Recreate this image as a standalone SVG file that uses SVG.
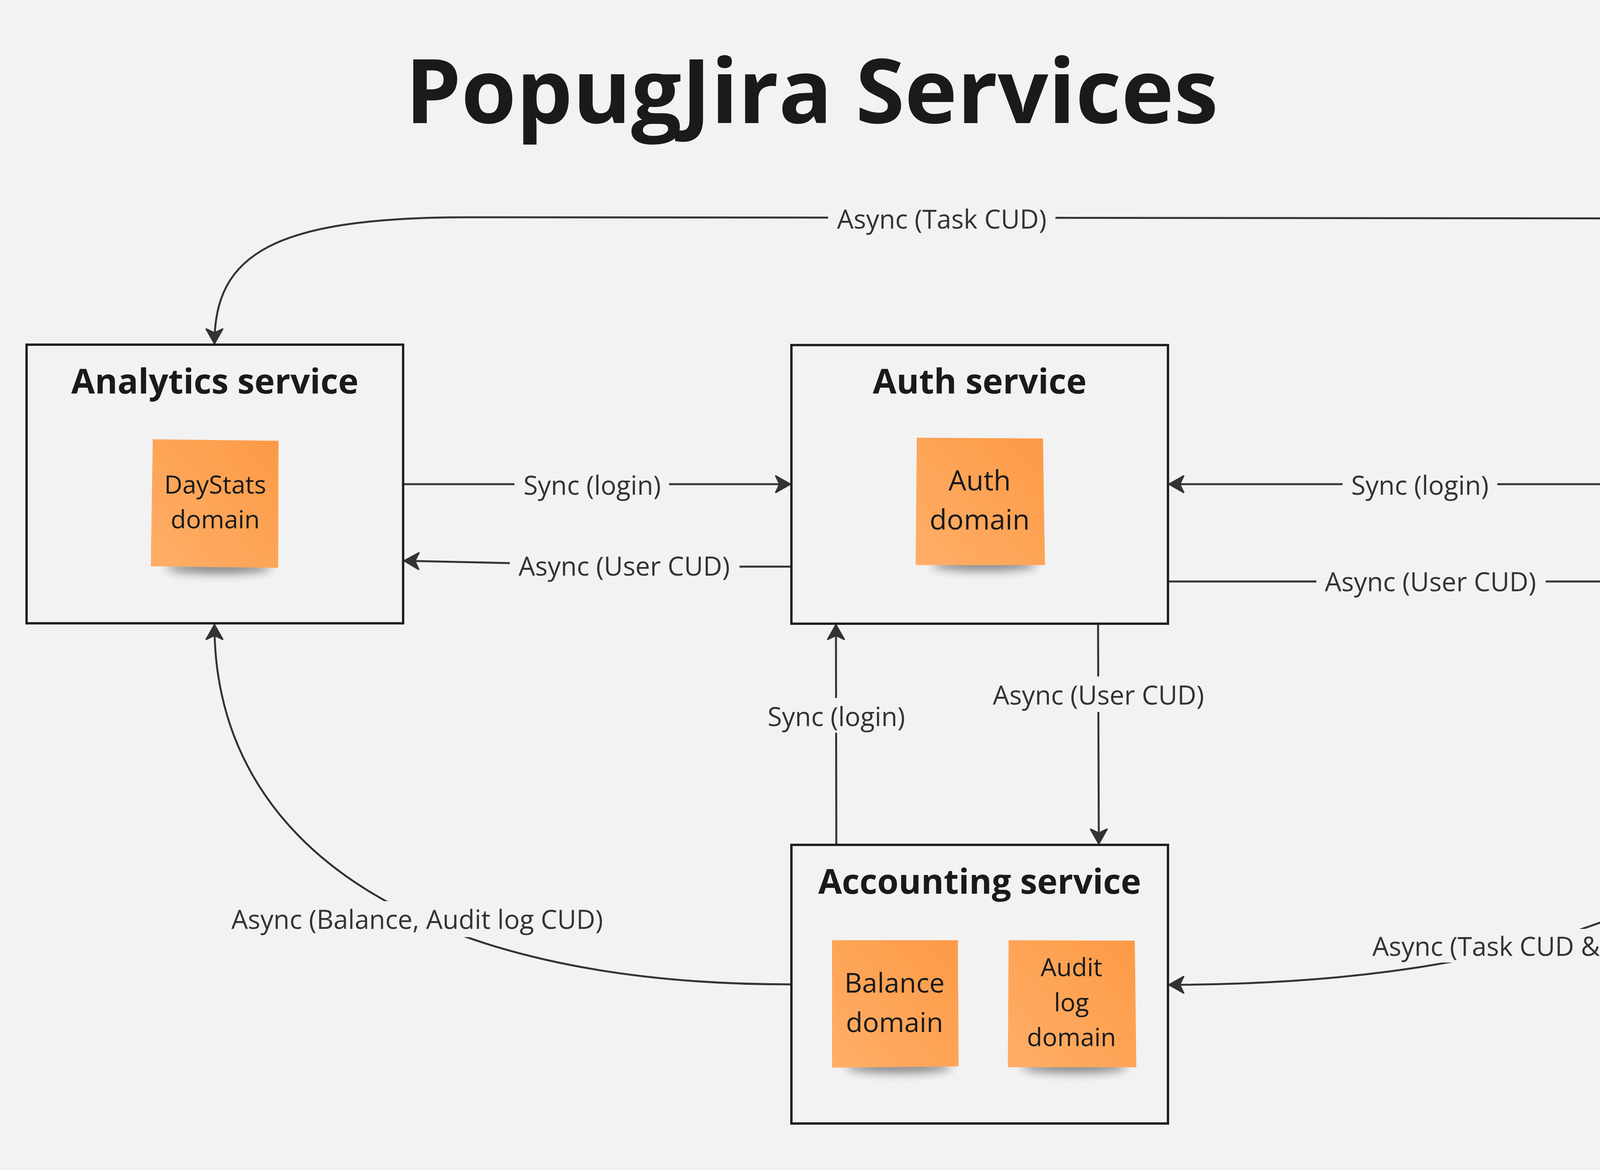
<svg xmlns="http://www.w3.org/2000/svg" width="5343" height="2994" viewBox="0 0 5343 2994">
<style>
.box{fill:none;stroke:#1f1f1f;stroke-width:6}
.title{font-family:"Open Sans","Noto Sans","Liberation Sans",sans-serif;font-weight:700;font-size:88px;fill:#1a1a1a;text-anchor:middle}
.note{font-family:"Open Sans","Noto Sans","Liberation Sans",sans-serif;font-size:70px;fill:#1a1a1a;text-anchor:middle}
.lbl{font-family:"Open Sans","Noto Sans","Liberation Sans",sans-serif;font-size:67px;fill:#333333;text-anchor:middle}
.edge{fill:none;stroke:#333333;stroke-width:5}
.bg{fill:#f2f2f2}
.sticky{fill:url(#stickyGrad)}
.shadow{fill:#000;opacity:0.45;filter:url(#blur)}
</style>
<defs>
<linearGradient id="stickyGrad" x1="1" y1="0" x2="0" y2="1">
<stop offset="0" stop-color="#fc9a45"/>
<stop offset="1" stop-color="#ffae68"/>
</linearGradient>
<filter id="blur" x="-50%" y="-200%" width="200%" height="500%">
<feGaussianBlur stdDeviation="12"/>
</filter>
<marker id="arrow" markerUnits="userSpaceOnUse" viewBox="-42 -26 46 52" refX="0" refY="0" markerWidth="46" markerHeight="52" orient="auto">
<path d="M0 0 L-37 -21 L-27 0 L-37 21 Z" fill="#333333" stroke="#333333" stroke-width="4" stroke-linejoin="round"/>
</marker>
</defs>
<rect x="0" y="0" width="5343" height="2994" fill="#f2f2f2"/>

<text x="2078" y="315" font-family="Open Sans, Noto Sans, Liberation Sans, sans-serif" font-weight="700" font-size="228" fill="#1a1a1a" text-anchor="middle">PopugJira Services</text>

<g id="connectors">
<path class="edge" d="M4735 880 C4735 650 4560 565 4200 559 L1200 556 C700 556 549 650 549 879" marker-end="url(#arrow)"/>
<path class="edge" d="M1035 1239 L2023 1239" marker-end="url(#arrow)"/>
<path class="edge" d="M2023 1450 L1880 1450 L1305 1441 L1035 1435" marker-end="url(#arrow)"/>
<path class="edge" d="M4250 1239 L2993 1239" marker-end="url(#arrow)"/>
<path class="edge" d="M2993 1488 L4250 1488" marker-end="url(#arrow)"/>
<path class="edge" d="M2141 2160 L2140 1599" marker-end="url(#arrow)"/>
<path class="edge" d="M2811 1599 L2813 2159" marker-end="url(#arrow)"/>
<path class="edge" d="M4735 1599 C4735 2300 3870 2520 2993 2520" marker-end="url(#arrow)"/>
<path class="edge" d="M2023 2519 C1080 2519 549 2170 549 1599" marker-end="url(#arrow)"/>

<rect class="bg" x="2120" y="515" width="582" height="90"/>
<text class="lbl" x="2411" y="585">Async (Task CUD)</text>
<rect class="bg" x="1317" y="1195" width="396" height="90"/>
<text class="lbl" x="1516" y="1266">Sync (login)</text>
<rect class="bg" x="1305" y="1400" width="588" height="95"/>
<text class="lbl" x="1598" y="1473">Async (User CUD)</text>
<rect class="bg" x="3437" y="1195" width="396" height="90"/>
<text class="lbl" x="3635" y="1266">Sync (login)</text>
<rect class="bg" x="3370" y="1440" width="587" height="95"/>
<text class="lbl" x="3662" y="1513">Async (User CUD)</text>
<rect class="bg" x="1950" y="1786" width="382" height="89"/>
<text class="lbl" x="2141" y="1858">Sync (login)</text>
<rect class="bg" x="2520" y="1731" width="585" height="91"/>
<text class="lbl" x="2812" y="1803">Async (User CUD)</text>
<rect class="bg" x="3490" y="2377" width="945" height="86"/>
<text class="lbl" x="3961" y="2446">Async (Task CUD &amp; Business)</text>
<rect class="bg" x="565" y="2306" width="1005" height="92"/>
<text class="lbl" x="1068" y="2377">Async (Balance, Audit log CUD)</text>
</g>

<g id="analytics">
<rect class="box" x="68" y="882" width="964" height="713"/>
<text class="title" x="550" y="1007">Analytics service</text>
<g id="daystats">
<ellipse class="shadow" cx="560" cy="1452" rx="135" ry="16"/>
<polygon class="sticky" points="391,1124 713,1128 712,1453 386,1449"/>
<text class="note" font-size="64" x="551" y="1263" style="font-size:64px">DayStats</text>
<text class="note" x="551" y="1352" style="font-size:64px">domain</text>
</g>
</g>

<g id="auth">
<rect class="box" x="2026" y="883" width="964" height="713"/>
<text class="title" x="2508" y="1007">Auth service</text>
<g id="authdomain">
<ellipse class="shadow" cx="2520" cy="1445" rx="135" ry="16"/>
<polygon class="sticky" points="2347,1120 2670,1122 2675,1446 2344,1446"/>
<text class="note" x="2508" y="1255" style="font-size:72px">Auth</text>
<text class="note" x="2508" y="1355" style="font-size:72px">domain</text>
</g>
</g>

<g id="task">
<rect class="box" x="4253" y="882" width="964" height="713"/>
<text class="title" x="4735" y="1006">Task service</text>
<g id="taskdomain">
<ellipse class="shadow" cx="4745" cy="1443" rx="135" ry="16"/>
<polygon class="sticky" points="4573,1119 4895,1122 4898,1444 4576,1444"/>
<text class="note" x="4735" y="1254" style="font-size:72px">Task</text>
<text class="note" x="4735" y="1354" style="font-size:72px">domain</text>
</g>
</g>

<g id="accounting">
<rect class="box" x="2026" y="2162" width="964" height="713"/>
<text class="title" x="2508" y="2287">Accounting service</text>
<g id="balancedomain">
<ellipse class="shadow" cx="2300" cy="2730" rx="135" ry="16"/>
<polygon class="sticky" points="2130,2406 2452,2406 2454,2729 2130,2732"/>
<text class="note" x="2290" y="2540" style="font-size:70px">Balance</text>
<text class="note" x="2290" y="2641" style="font-size:70px">domain</text>
</g>
<g id="auditdomain">
<ellipse class="shadow" cx="2750" cy="2730" rx="135" ry="16"/>
<polygon class="sticky" points="2582,2406 2905,2407 2909,2731 2580,2731"/>
<text class="note" x="2743" y="2498" style="font-size:64px">Audit</text>
<text class="note" x="2743" y="2588" style="font-size:64px">log</text>
<text class="note" x="2743" y="2677" style="font-size:64px">domain</text>
</g>
</g>
</svg>
